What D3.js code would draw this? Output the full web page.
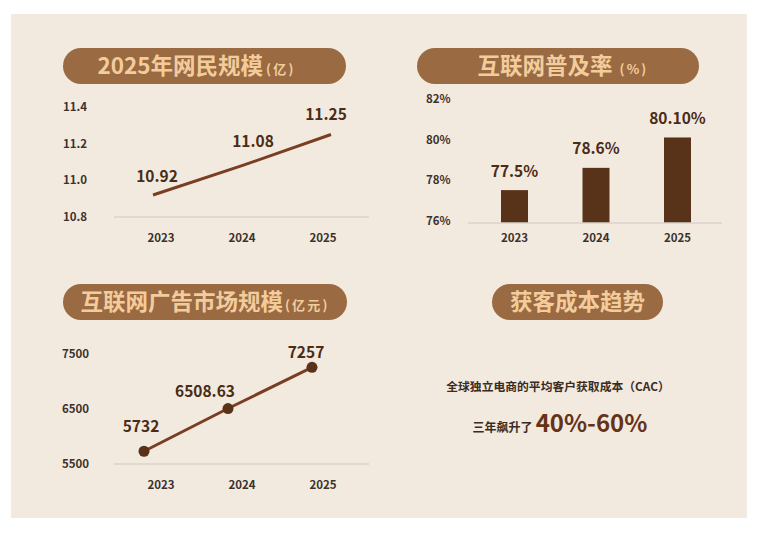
<!DOCTYPE html>
<html><head><meta charset="utf-8">
<script src="https://cdn.jsdelivr.net/npm/d3@7"></script>
<style>
html,body{margin:0;padding:0;background:#fff;}
svg{display:block;font-family:"Noto Sans CJK SC","Noto Sans",sans-serif;}
</style></head>
<body>
<svg id="c" width="769" height="533"></svg>
<script>
// ---- data ----
const years = ["2023", "2024", "2025"];
const netizens = [10.92, 11.08, 11.25];
const netizenTicks = [10.8, 11.0, 11.2, 11.4];
const netizenLabels = ["10.92", "11.08", "11.25"];
const penetration = [77.5, 78.6, 80.1];
const penetrationLabels = ["77.5%", "78.6%", "80.10%"];
const penetrationTicks = [76, 78, 80, 82];
const adMarket = [5732, 6508.63, 7257];
const adLabels = ["5732", "6508.63", "7257"];
const adTicks = [5500, 6500, 7500];
const titles = [
  {main: "2025年网民规模", unit: "(亿)"},
  {main: "互联网普及率", unit: "(%)"},
  {main: "互联网广告市场规模", unit: "(亿元)"},
  {main: "获客成本趋势", unit: ""}
];
const cacLine1 = "全球独立电商的平均客户获取成本（CAC）";
const cacLine2a = "三年飙升了";
const cacLine2b = "40%-60%";

// ---- styles ----
const PANEL = "#f3eadf", PILL = "#9a6a42", PILLTXT = "#f3cc9c";
const TICK = "#3b322d", VAL = "#4a2c17", LINE = "#7a3e22", DOT = "#5a321a", BAR = "#583219", BASE = "#d9d3cc";

const svg = d3.select("#c");
svg.append("rect").attr("x", 11).attr("y", 14).attr("width", 736).attr("height", 504).attr("fill", PANEL);

// title pills
const pills = [
  {x: 63, y: 48, w: 283, gap: 3, shift: -8}, {x: 417, y: 48, w: 282, gap: 7, shift: 5},
  {x: 63, y: 284, w: 284, gap: 2, shift: 0}, {x: 492, y: 284, w: 171, gap: 0, shift: 0}
];
pills.forEach((p, i) => {
  svg.append("rect").attr("x", p.x).attr("y", p.y).attr("width", p.w).attr("height", 36)
    .attr("rx", 18).attr("fill", PILL);
  const t = svg.append("text").attr("x", p.x + p.w / 2 + p.shift).attr("y", p.y + 26)
    .attr("text-anchor", "middle").attr("fill", PILLTXT).attr("font-weight", "bold");
  t.append("tspan").attr("font-size", 22.5).text(titles[i].main);
  if (titles[i].unit) t.append("tspan").attr("font-size", 13).attr("dx", p.gap)
    .attr("letter-spacing", 2.2).text(titles[i].unit);
});

function yTicks(g, scale, ticks, fmt, x) {
  g.selectAll(null).data(ticks).join("text")
    .attr("x", x).attr("y", d => scale(d)).attr("dy", "0.35em")
    .attr("font-size", 11.5).attr("font-weight", "bold").attr("fill", TICK)
    .text(fmt);
}
function xLabels(g, scale, y) {
  g.selectAll(null).data(years).join("text")
    .attr("x", d => scale(d)).attr("y", y).attr("dy", "0.35em").attr("text-anchor", "middle")
    .attr("font-size", 11.5).attr("font-weight", "bold").attr("fill", TICK).text(d => d);
}
function baseline(g, x1, x2, y) {
  g.append("line").attr("x1", x1).attr("x2", x2).attr("y1", y).attr("y2", y)
    .attr("stroke", BASE).attr("stroke-width", 1.5);
}

// ---- chart 1: netizens line ----
{
  const g = svg.append("g");
  const y = d3.scaleLinear().domain([10.8, 11.4]).range([217, 107]);
  const x = d3.scalePoint().domain(years).range([153, 331]);
  const xl = d3.scalePoint().domain(years).range([161, 323]);
  baseline(g, 114, 369, 217);
  yTicks(g, y, netizenTicks, d => d3.format(".1f")(d), 63);
  xLabels(g, xl, 238);
  const pts = years.map((d, i) => [x(d), y(netizens[i])]);
  g.append("path").attr("d", d3.line()(pts)).attr("fill", "none").attr("stroke", LINE).attr("stroke-width", 3);
  const off = [[4, -18], [11, -24], [-5, -20]];
  g.selectAll(null).data(netizenLabels).join("text")
    .attr("x", (d, i) => pts[i][0] + off[i][0]).attr("y", (d, i) => pts[i][1] + off[i][1])
    .attr("dy", "0.35em").attr("text-anchor", "middle")
    .attr("font-size", 15.5).attr("font-weight", "bold").attr("fill", VAL).text(d => d);
}

// ---- chart 2: penetration bars ----
{
  const g = svg.append("g");
  const y = d3.scaleLinear().domain([76, 82]).range([220.5, 99]);
  const x = d3.scalePoint().domain(years).range([514.5, 677.5]);
  const bw = 27, base = 223;
  yTicks(g, y, penetrationTicks, d => d + "%", 426);
  g.selectAll(null).data(penetration).join("rect")
    .attr("x", (d, i) => x(years[i]) - bw / 2).attr("y", d => y(d))
    .attr("width", bw).attr("height", d => base - y(d)).attr("fill", BAR);
  baseline(g, 468, 722, base);
  xLabels(g, x, 238);
  g.selectAll(null).data(penetrationLabels).join("text")
    .attr("x", (d, i) => x(years[i])).attr("y", (d, i) => y(penetration[i]) - 19)
    .attr("dy", "0.35em").attr("text-anchor", "middle")
    .attr("font-size", 15.5).attr("font-weight", "bold").attr("fill", VAL).text(d => d);
}

// ---- chart 3: ad market line ----
{
  const g = svg.append("g");
  const y = d3.scaleLinear().domain([5500, 7500]).range([464, 354]);
  const x = d3.scalePoint().domain(years).range([144, 312]);
  const xl = d3.scalePoint().domain(years).range([161, 323]);
  baseline(g, 114, 369, 464);
  yTicks(g, y, adTicks, d => d, 62);
  xLabels(g, xl, 485);
  const pts = years.map((d, i) => [x(d), y(adMarket[i])]);
  g.append("path").attr("d", d3.line()(pts)).attr("fill", "none").attr("stroke", LINE).attr("stroke-width", 3);
  g.selectAll(null).data(pts).join("circle").attr("cx", d => d[0]).attr("cy", d => d[1])
    .attr("r", 5.5).attr("fill", DOT);
  const off = [[-3, -25], [-23, -17], [-6, -15]];
  g.selectAll(null).data(adLabels).join("text")
    .attr("x", (d, i) => pts[i][0] + off[i][0]).attr("y", (d, i) => pts[i][1] + off[i][1])
    .attr("dy", "0.35em").attr("text-anchor", "middle")
    .attr("font-size", 15.5).attr("font-weight", "bold").attr("fill", VAL).text(d => d);
}

// ---- chart 4: CAC text ----
{
  const g = svg.append("g");
  g.append("text").attr("x", 558).attr("y", 387).attr("dy", "0.35em").attr("text-anchor", "middle")
    .attr("font-size", 11.8).attr("font-weight", "bold").attr("fill", "#3a2c22").text(cacLine1);
  const t = g.append("text").attr("x", 560).attr("y", 426).attr("dy", "0.35em").attr("text-anchor", "middle")
    .attr("font-weight", "bold");
  t.append("tspan").attr("font-size", 12).attr("fill", "#3a2c22").text(cacLine2a);
  t.append("tspan").attr("font-size", 24).attr("fill", "#673316").attr("dx", 3).text(cacLine2b);
}
</script>
</body></html>
